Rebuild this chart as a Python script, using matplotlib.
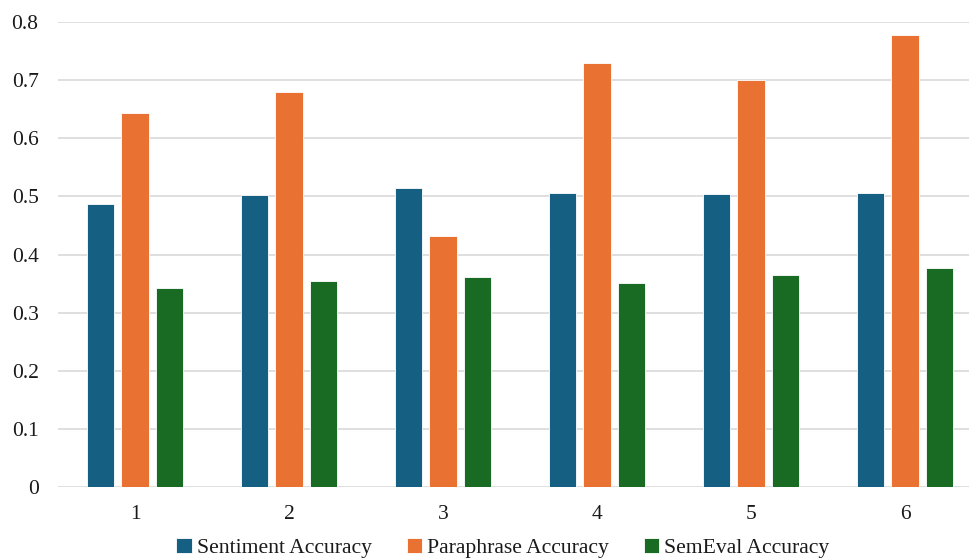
import numpy as np
import matplotlib.pyplot as plt

# values
runs = ["1", "2", "3", "4", "5", "6"]
sentiment = [0.487, 0.503, 0.515, 0.506, 0.504, 0.506]
paraphrase = [0.643, 0.680, 0.432, 0.730, 0.701, 0.777]
semeval = [0.342, 0.354, 0.362, 0.351, 0.365, 0.377]

series = [
    ("Sentiment Accuracy", sentiment, "#156082"),
    ("Paraphrase Accuracy", paraphrase, "#E97132"),
    ("SemEval Accuracy", semeval, "#196B24"),
]

plt.rcParams['font.family'] = ['Liberation Serif', 'DejaVu Serif']

fig = plt.figure(figsize=(9.69, 5.6), dpi=100)
# plot area runs a little past the right edge, as in the reference
ax = fig.add_axes([58 / 969, 73 / 560, 924 / 969, 465 / 560])

x = np.arange(len(runs))
step = 0.222
width = 0.177
for i, (name, vals, col) in enumerate(series):
    ax.bar(x + (i - 1) * step, vals, width, color=col, label=name,
           edgecolor="white", linewidth=0.6, zorder=3)

ax.set_xlim(-0.5, len(runs) - 0.5)
ax.set_ylim(0, 0.8)
ax.set_yticks(np.arange(0, 0.81, 0.1))
ax.set_yticklabels(["0"] + ["%.1f" % v for v in np.arange(0.1, 0.81, 0.1)])
ax.set_xticks(x)
ax.set_xticklabels(runs)
ax.tick_params(axis="both", length=0, labelsize=15.5, colors="#1a1a1a")
ax.tick_params(axis="x", pad=13)
ax.tick_params(axis="y", pad=14)
ax.grid(axis="y", color="#D9D9D9", linewidth=1.2, zorder=0)
for s in ax.spines.values():
    s.set_visible(False)

fig.legend(loc="center", bbox_to_anchor=(503 / 969, 12 / 560), ncol=3,
           frameon=False, fontsize=15.6, handlelength=0.7, handleheight=0.7,
           handletextpad=0.25, columnspacing=1.6, labelcolor="#1a1a1a",
           borderaxespad=0, borderpad=0.1)

fig.savefig("out.png", dpi=100)
